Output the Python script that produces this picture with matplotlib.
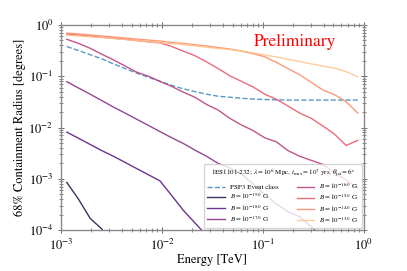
import matplotlib
matplotlib.use("Agg")
import matplotlib.pyplot as plt

plt.rcParams['font.family'] = ['STIXGeneral', 'DejaVu Serif']
plt.rcParams['mathtext.fontset'] = 'stix'

energy = [0.00114, 0.00149, 0.00194, 0.00253, 0.00330, 0.00431, 0.00562, 0.00733,
          0.00955, 0.0125, 0.0162, 0.0212, 0.0276, 0.0360, 0.0470, 0.0613, 0.0799,
          0.104, 0.136, 0.177, 0.231, 0.301, 0.393, 0.513, 0.668, 0.872]

psf3 = [0.380, 0.316, 0.263, 0.219, 0.174, 0.141, 0.115, 0.0955, 0.0794, 0.0661,
        0.0569, 0.0501, 0.0447, 0.0407, 0.0389, 0.0372, 0.0359, 0.0351, 0.0347,
        0.0343, 0.0343, 0.0343, 0.0343, 0.0343, 0.0343, 0.0343]

r_b19 = [8.5e-4, 4.0e-4, 1.7e-4, 1.05e-4, 5.0e-5]
r_b18 = [8.13e-3, 6.17e-3, 4.68e-3, 3.55e-3, 2.75e-3, 2.09e-3, 1.58e-3, 1.20e-3,
         9.1e-4, 4.7e-4, 2.45e-4, 1.38e-4, 7.9e-5]
r_b17 = [0.0783, 0.0589, 0.0447, 0.0335, 0.0251, 0.0191, 0.0145, 0.0110, 0.00832,
         0.00631, 0.00490, 0.00363, 0.00275, 0.00200, 0.00162, 0.00123, 7.9e-4,
         5.0e-4, 3.24e-4, 2.29e-4, 1.82e-4, 1.17e-4, 7.1e-5]
r_b16 = [0.525, 0.437, 0.351, 0.269, 0.209, 0.158, 0.120, 0.100, 0.0794, 0.0631,
         0.0490, 0.0389, 0.0282, 0.0219, 0.0151, 0.0112, 0.00871, 0.00631, 0.00525,
         0.00355, 0.00275, 0.00229, 0.00191, 0.00132, 9.5e-4, 6.6e-4]
r_b15 = [0.661, 0.631, 0.603, 0.575, 0.550, 0.525, 0.495, 0.468, 0.447, 0.380,
         0.309, 0.251, 0.191, 0.141, 0.102, 0.0794, 0.0617, 0.0447, 0.0355, 0.0263,
         0.0191, 0.0151, 0.0107, 0.00741, 0.00447, 0.00562]
r_b14 = [0.692, 0.668, 0.638, 0.610, 0.582, 0.556, 0.531, 0.507, 0.484, 0.457,
         0.437, 0.412, 0.389, 0.363, 0.339, 0.309, 0.275, 0.240, 0.186, 0.141,
         0.107, 0.0759, 0.0537, 0.0437, 0.0316, 0.0191]
r_b13 = [0.631, 0.610, 0.589, 0.569, 0.543, 0.519, 0.495, 0.473, 0.452, 0.432,
         0.412, 0.389, 0.367, 0.347, 0.331, 0.309, 0.285, 0.260, 0.237, 0.214,
         0.193, 0.174, 0.158, 0.143, 0.123, 0.0977]

b_exponents = ["-19.0", "-18.0", "-17.0", "-16.0", "-15.0", "-14.0", "-13.0"]
b_series = [r_b19, r_b18, r_b17, r_b16, r_b15, r_b14, r_b13]
b_colors = ['#1d1147', '#51127c', '#822681', '#b73779', '#e75263', '#fc8961', '#fec488']

fig = plt.figure(figsize=(4.07, 2.71), dpi=100)
ax = fig.add_axes([0.150, 0.151, 0.744, 0.757])

ax.plot(energy, psf3, ls='--', color='#1f77b4', alpha=0.75, lw=1.0, label='PSF3 Event class')
for vals, ex, col in zip(b_series, b_exponents, b_colors):
    ax.plot(energy[:len(vals)], vals, color=col, alpha=0.85, lw=1.0,
            label=r'$B = 10^{%s}$ G' % ex)

ax.set_xscale('log')
ax.set_yscale('log')
ax.set_xlim(1e-3, 1e0)
ax.set_ylim(1e-4, 1e0)
ax.set_xlabel('Energy [TeV]', fontsize=9, labelpad=1)
ax.set_ylabel('68% Containment Radius [degrees]', fontsize=9, labelpad=2)

ax.tick_params(which='both', direction='inout', top=True, right=True, labelsize=9,
               color='#555555')
ax.tick_params(which='major', length=4, width=0.6)
ax.tick_params(which='minor', length=2.2, width=0.5)
for sp in ax.spines.values():
    sp.set_color('#888888')
    sp.set_linewidth(1.0)

ax.text(0.772, 0.915, 'Preliminary', color='red', fontsize=12.5,
        transform=ax.transAxes, ha='center', va='center')

leg = ax.legend(loc='lower right', ncol=2, fontsize=5, title_fontsize=5,
                title=r'1ES1101-232; $\lambda = 10^{6}$ Mpc, $t_{\rm max} = 10^{7}$ yrs, $\theta_{\rm jet} = 6^{\circ}$',
                borderaxespad=0.25, handlelength=2.5, columnspacing=2.5,
                labelspacing=0.2, borderpad=0.5, framealpha=0.8)

fig.savefig('out.png', dpi=100)
